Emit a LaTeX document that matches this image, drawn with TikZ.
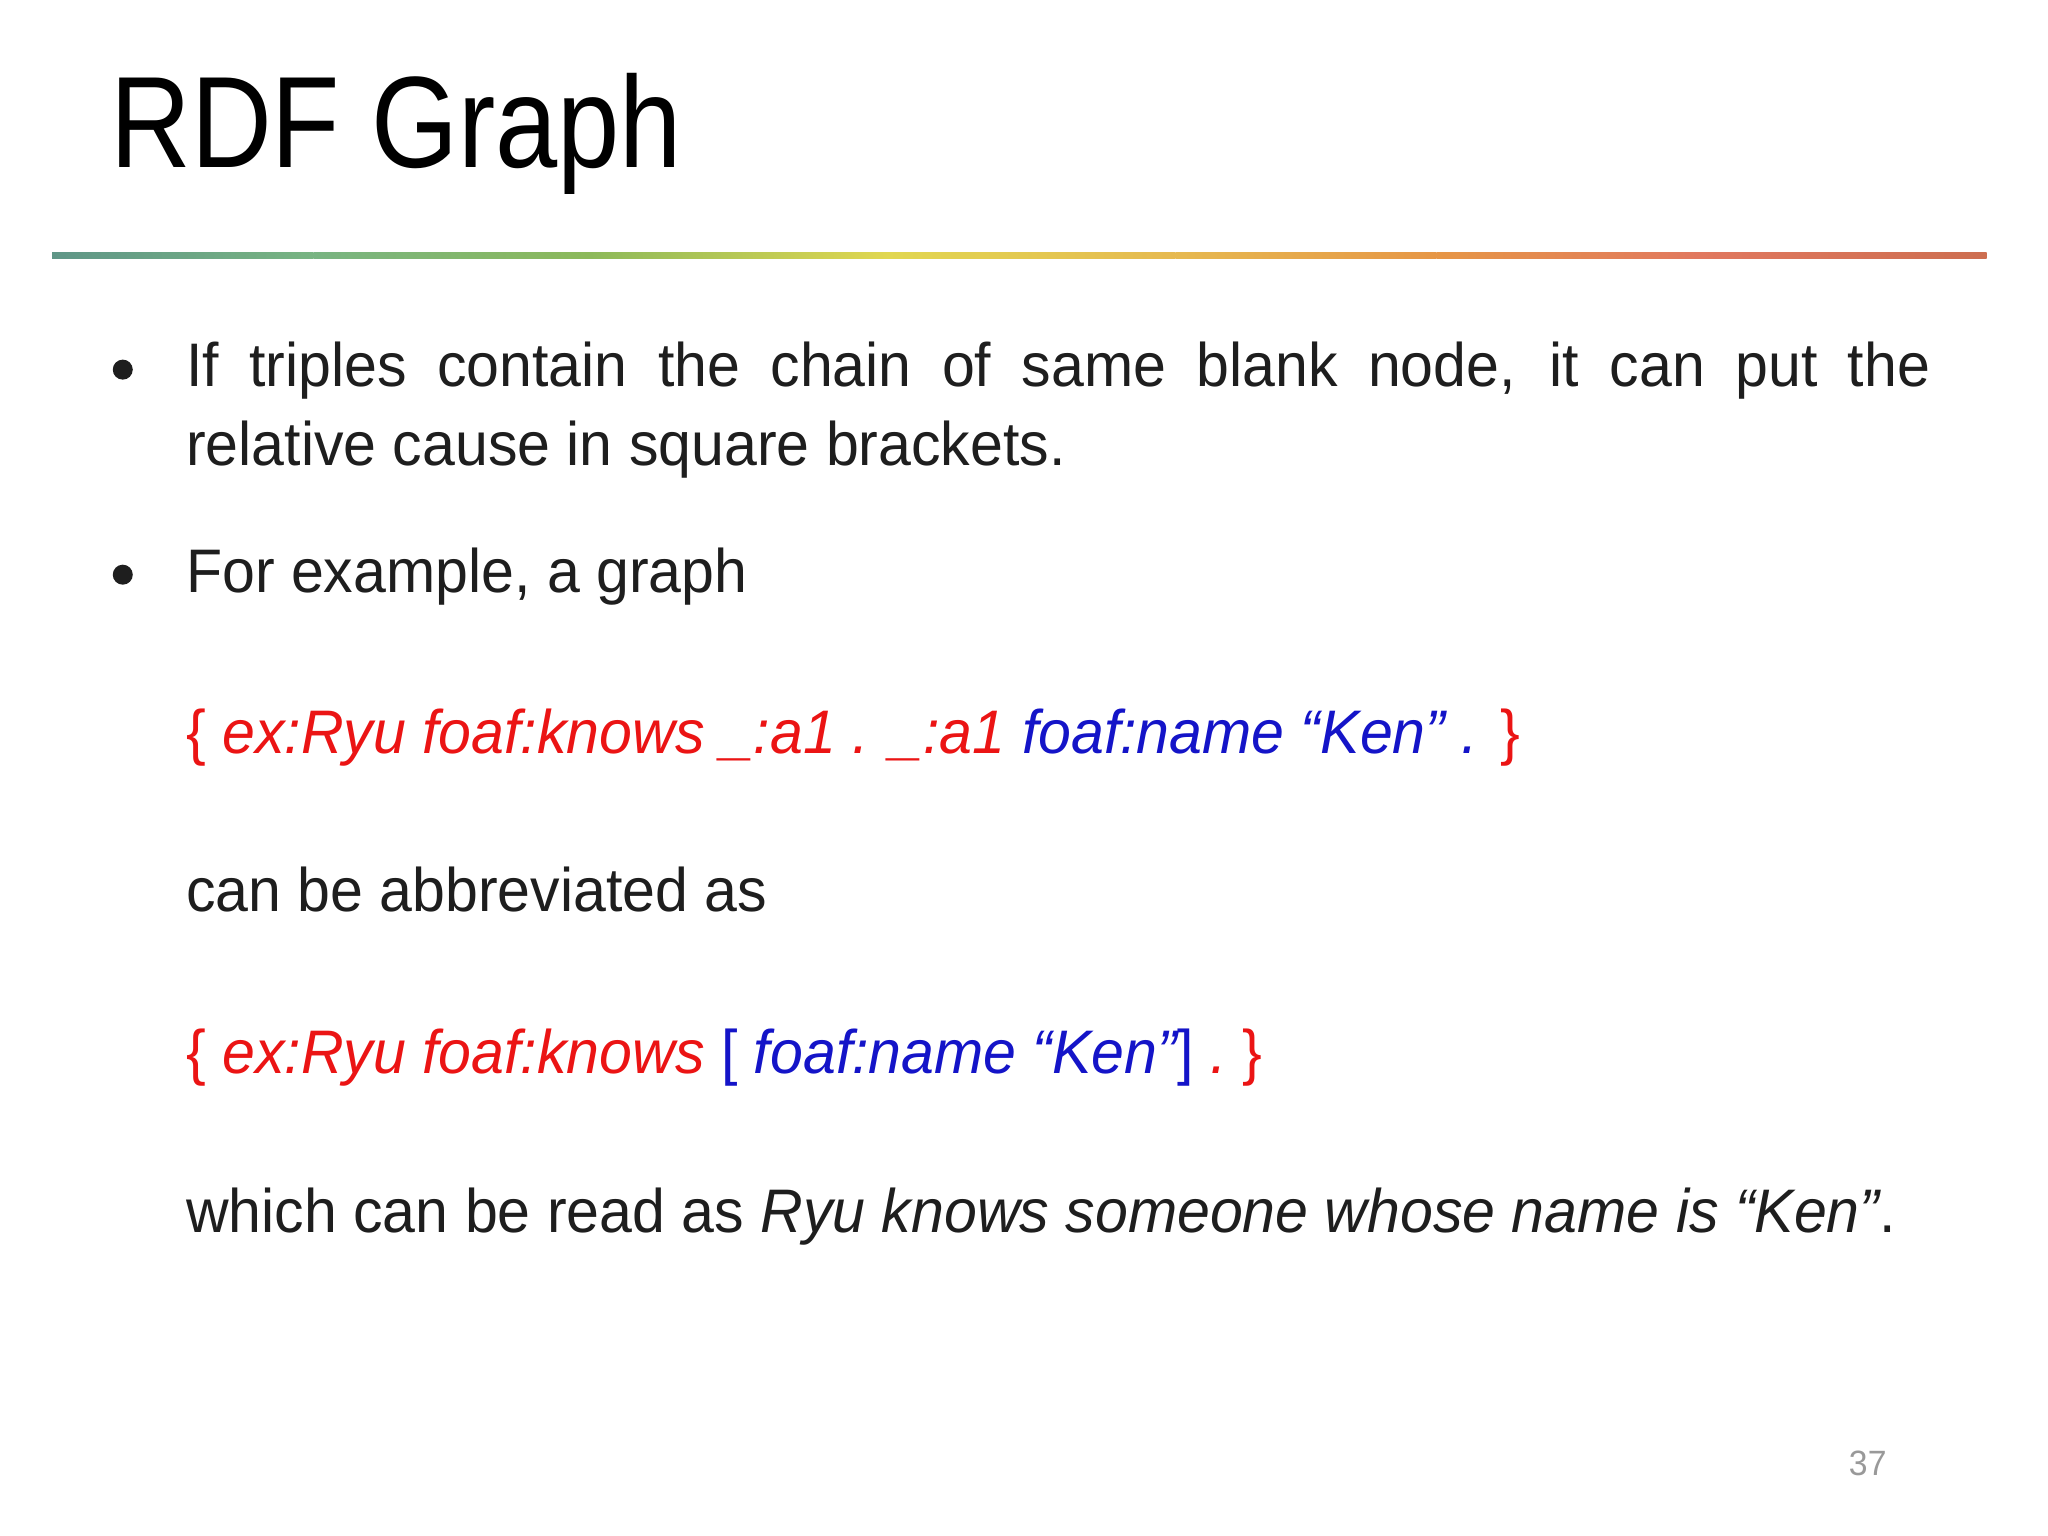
\documentclass[tikz,border=0pt]{standalone}
\usepackage{fontspec}
\setmainfont{Liberation Sans}[FakeStretch=0.96]
\newfontfamily\titlefont{Liberation Sans}[FakeStretch=0.86]
\definecolor{rr}{RGB}{235,20,20}
\definecolor{bb}{RGB}{20,20,200}
\definecolor{txt}{RGB}{30,30,30}
\definecolor{g1}{RGB}{95,150,135}
\definecolor{g2}{RGB}{120,180,130}
\definecolor{g3}{RGB}{140,185,90}
\definecolor{g4}{RGB}{225,215,80}
\definecolor{g5}{RGB}{230,185,80}
\definecolor{g6}{RGB}{230,150,70}
\definecolor{g7}{RGB}{225,120,95}
\definecolor{g8}{RGB}{205,110,80}
\begin{document}
\begin{tikzpicture}[x=0.013061cm,y=-0.013061cm,
  body/.style={anchor=base west,inner sep=0pt,text=txt,font=\fontsize{17.5}{24}\selectfont},
  bul/.style={circle,fill=txt,inner sep=0pt,minimum size=0.2cm}]
\useasboundingbox (0,0) rectangle (1568,1176);
\fill[white] (0,0) rectangle (1568,1176);
\node[anchor=base west,inner sep=0pt,font=\titlefont\fontsize{37}{40}\selectfont] (title) at (84,128) {RDF Graph};
% gradient rule
\foreach \a/\b/\c/\d in {40/240/g1/g2,240/450/g2/g3,450/680/g3/g4,680/900/g4/g5,900/1100/g5/g6,1100/1300/g6/g7,1300/1521/g7/g8}
  \shade[left color=\c,right color=\d] (\a,193) rectangle (\b,198);
\node[bul] (b1) at (94,283) {};
\node[body,anchor=north west,text width=17.44cm,align=justify,font=\fontsize{17.5}{22.7}\selectfont] (p1) at (142,261)
 {\hyphenpenalty=10000\exhyphenpenalty=10000 If triples contain the chain of same blank node, it can put the\linebreak relative cause in square brackets.};
\node[bul] (b2) at (94,440) {};
\node[body] (p2) at (142,454) {For example, a graph};
\node[body] (c1) at (142,577) {\textcolor{rr}{\{ \itshape ex:Ryu foaf:knows \_:a1 . \_:a1 }\textcolor{bb}{\itshape foaf:name “Ken” . }\textcolor{rr}{\}}};
\node[body] (p3) at (142,698) {can be abbreviated as};
\node[body] (c2) at (142,822) {\textcolor{rr}{\{ \itshape ex:Ryu foaf:knows }\textcolor{bb}{[ \itshape foaf:name “Ken”\upshape] }\textcolor{rr}{\itshape .\upshape\ \}}};
\node[body] (p4) at (142,944) {which can be read as \textit{Ryu knows someone whose name is “Ken”}.};
\node[anchor=base,inner sep=0pt,text=gray!80,font=\fontsize{10}{12}\selectfont] (pg) at (1430,1130) {37};
\end{tikzpicture}
\end{document}
